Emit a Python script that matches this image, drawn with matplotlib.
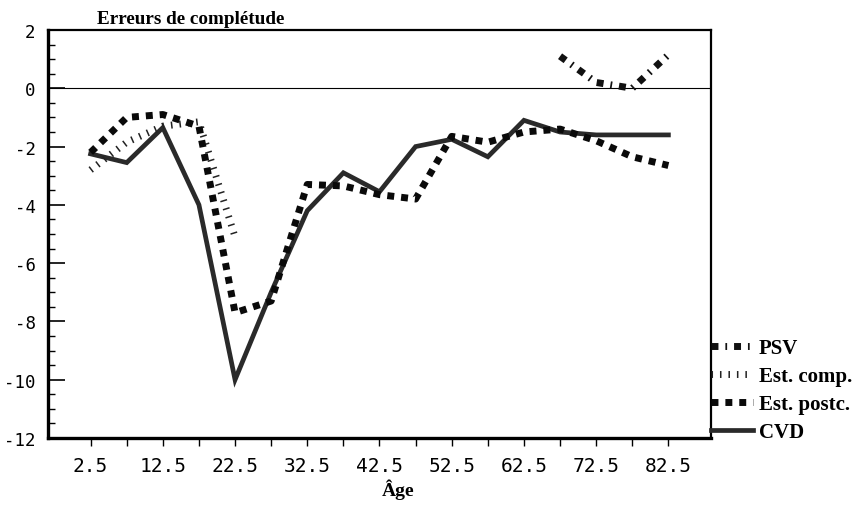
import numpy as np
import matplotlib
matplotlib.use("Agg")
import matplotlib.pyplot as plt
from matplotlib.ticker import MultipleLocator, FixedLocator

nan = np.nan
ages = [2.5, 7.5, 12.5, 17.5, 22.5, 27.5, 32.5, 37.5, 42.5, 47.5,
        52.5, 57.5, 62.5, 67.5, 72.5, 77.5, 82.5]
psv = [nan, nan, nan, nan, nan, nan, nan, nan, nan, nan,
       nan, nan, nan, 1.1, 0.2, 0.0, 1.15]
est_comp = [-2.8, -1.85, -1.3, -1.15, -5.1, nan, nan, nan, nan, nan,
            nan, nan, nan, nan, nan, nan, nan]
est_postc = [-2.2, -1.0, -0.9, -1.3, -7.7, -7.3, -3.3, -3.35, -3.65, -3.8,
             -1.65, -1.85, -1.5, -1.4, -1.8, -2.35, -2.65]
cvd = [-2.25, -2.55, -1.35, -4.0, -10.0, -7.0, -4.2, -2.9, -3.55, -2.0,
       -1.75, -2.35, -1.1, -1.5, -1.6, -1.6, -1.6]

xtick_labels = ["2.5", "12.5", "22.5", "32.5", "42.5", "52.5", "62.5", "72.5", "82.5"]
xtick_pos = [2.5, 12.5, 22.5, 32.5, 42.5, 52.5, 62.5, 72.5, 82.5]
ytick_pos = [-12, -10, -8, -6, -4, -2, 0, 2]
ytick_labels = ["-12", "-10", "-8", "-6", "-4", "-2", "0", "2"]

fig = plt.figure(figsize=(8.57, 5.06), dpi=100)
ax = fig.add_axes([48/857, 1-439/506, (711-48)/857, (439-31)/506])

ax.axhline(0, color="black", lw=0.8, zorder=1)

l_psv, = ax.plot(ages, psv, color="#111111", lw=5, dashes=(1.0, 1.0, 0.25, 1.0),
                 solid_capstyle="butt", dash_capstyle="butt", label="PSV", zorder=4)
l_comp, = ax.plot(ages, est_comp, color="#222222", lw=5, dashes=(0.22, 1.0),
                  dash_capstyle="butt", label="Est. comp.", zorder=3)
l_postc, = ax.plot(ages, est_postc, color="#0a0a0a", lw=5, dashes=(1.0, 1.0),
                   dash_capstyle="butt", label="Est. postc.", zorder=5)
l_cvd, = ax.plot(ages, cvd, color="#2a2a2a", lw=3.4, solid_joinstyle="miter",
                 label="CVD", zorder=2)

ax.set_xlim(-3.4, 88.4)
ax.set_ylim(-12, 2)

mono = "DejaVu Sans Mono"
ax.xaxis.set_major_locator(FixedLocator(xtick_pos))
ax.set_xticklabels(xtick_labels, fontfamily=mono, fontsize=14)
ax.xaxis.set_minor_locator(FixedLocator([p + 5 for p in xtick_pos[:-1]]))
ax.set_yticks(ytick_pos)
ax.set_yticklabels(ytick_labels, fontfamily=mono, fontsize=12.5)
ax.yaxis.set_minor_locator(MultipleLocator(0.5))

ax.tick_params(axis="x", which="both", direction="out", length=6, width=1, pad=7,
               top=False)
ax.tick_params(axis="y", which="major", direction="in", length=12, width=1.2, pad=9,
               right=False)
ax.tick_params(axis="y", which="minor", direction="in", length=5, width=1, right=False)

for side in ["left", "bottom"]:
    ax.spines[side].set_linewidth(2.4)
for side in ["top", "right"]:
    ax.spines[side].set_linewidth(1.6)

serif = "Liberation Serif"
fig.text(97/857, 1-24/506, "Erreurs de complétude", fontfamily=serif,
         fontweight="bold", fontsize=13.8, ha="left", va="baseline")
fig.text(398/857, 1-496/506, "Âge", fontfamily=serif, fontweight="bold",
         fontsize=14, ha="center", va="baseline")

leg = ax.legend(handles=[l_psv, l_comp, l_postc, l_cvd], loc="lower left",
                bbox_to_anchor=(1.0, -0.01), borderaxespad=0.0, frameon=False,
                prop={"family": serif, "weight": "bold", "size": 15},
                handlelength=2.0, handletextpad=0.3, labelspacing=0.38,
                borderpad=0.0)

fig.savefig("out.png", dpi=100)
